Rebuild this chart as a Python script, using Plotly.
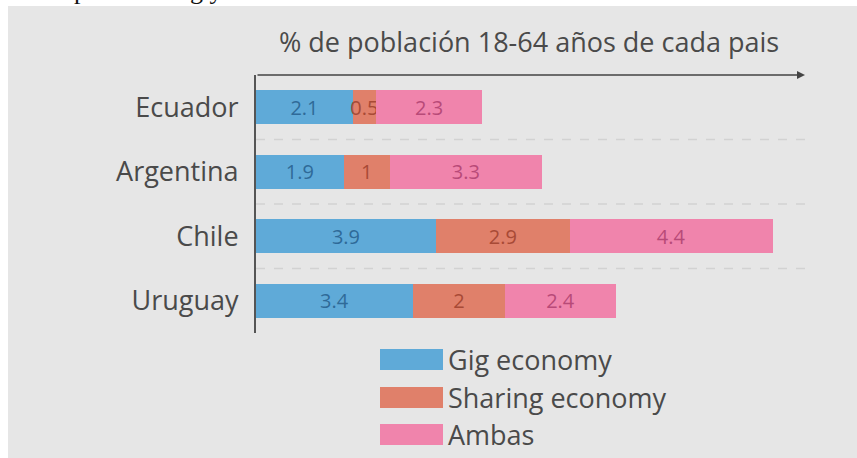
import plotly.graph_objects as go

# ---- data ----
countries = ["Ecuador", "Argentina", "Chile", "Uruguay"]
gig = [2.1, 1.9, 3.9, 3.4]
sharing = [0.5, 1, 2.9, 2]
ambas = [2.3, 3.3, 4.4, 2.4]
series_names = ["Gig economy", "Sharing economy", "Ambas"]
title_text = "% de población 18-64 años de cada pais"

# ---- style ----
W, H = 857, 458
bar_colors = ["#5faad8", "#e0806a", "#f084ac"]
text_colors = ["#2f6a98", "#a84a36", "#b84a78"]
FONT = "Open Sans"
label_color = "#4a4a4a"

def px(x):
    return x / W

def py(y):
    return (H - y) / H

fig = go.Figure()
for vals, name, c, tc in zip([gig, sharing, ambas], series_names, bar_colors, text_colors):
    fig.add_trace(go.Bar(
        x=vals, y=countries, orientation="h", name=name,
        marker=dict(color=c, line=dict(width=0)),
        text=vals, texttemplate="%{x}", textposition="inside", textangle=0,
        insidetextanchor="middle", constraintext="none",
        textfont=dict(family=FONT, size=20, color=tc),
        showlegend=False, hoverinfo="x+y+name",
    ))

shapes = [
    # grey panel
    dict(type="rect", xref="paper", yref="paper", x0=px(8), x1=1.0, y0=0, y1=py(6),
         fillcolor="#e6e6e6", line=dict(width=0), layer="below"),
]
# dashed separators between categories
for k in range(len(countries) - 1):
    shapes.append(dict(type="line", xref="x", yref="y", x0=0, x1=11.9, y0=k + 0.5, y1=k + 0.5,
                       line=dict(color="#d2d2d2", width=1.5, dash="dash"), layer="below"))

annotations = [
    dict(text=title_text, xref="paper", yref="paper", x=px(529), y=py(42),
         xanchor="center", yanchor="middle", showarrow=False,
         font=dict(family=FONT, size=27, color=label_color)),
    # top axis arrow
    dict(text="", xref="x", yref="y", x=11.9, y=-0.5, axref="x", ayref="y", ax=0, ay=-0.5,
         showarrow=True, arrowhead=2, arrowsize=1, arrowwidth=1.6, arrowcolor="#444444"),
    # clipped text fragments at very top (cut off in the reference too)
    dict(text="p", xref="paper", yref="paper", x=px(80), y=py(-10), xanchor="center", yanchor="middle",
         showarrow=False, font=dict(family="Liberation Serif", size=26, color="#111111")),
    dict(text="g y", xref="paper", yref="paper", x=px(206), y=py(-10), xanchor="center", yanchor="middle",
         showarrow=False, font=dict(family="Liberation Serif", size=26, color="#111111")),
]

# legend drawn manually (wide swatches)
leg_y = [359.5, 397.5, 434.5]
for name, c, yc in zip(series_names, bar_colors, leg_y):
    shapes.append(dict(type="rect", xref="paper", yref="paper", x0=px(380), x1=px(443),
                       y0=py(yc + 10.5), y1=py(yc - 10.5), fillcolor=c, line=dict(width=0)))
    annotations.append(dict(text=name, xref="paper", yref="paper", x=px(446), y=py(yc),
                            xanchor="left", yanchor="middle", showarrow=False,
                            font=dict(family=FONT, size=27, color=label_color)))

fig.update_layout(
    width=W, height=H,
    margin=dict(l=0, r=0, t=0, b=0),
    paper_bgcolor="white", plot_bgcolor="rgba(0,0,0,0)",
    barmode="stack", bargap=0.47,
    shapes=shapes, annotations=annotations,
    showlegend=False,
    xaxis=dict(domain=[px(256), px(805)], range=[0, 11.9], showgrid=False, zeroline=False,
               showticklabels=False, showline=False, fixedrange=True),
    yaxis=dict(domain=[py(333), py(75)], type="category", categoryorder="array",
               categoryarray=countries, range=[3.5, -0.5], showline=True, linecolor="#555555",
               linewidth=2, ticks="", showgrid=False, zeroline=False, ticklabelstandoff=10,
               tickfont=dict(family=FONT, size=27, color=label_color), fixedrange=True),
)

fig.write_html("out.html", config={"displayModeBar": False},
               post_script="document.body.style.margin='0';")
